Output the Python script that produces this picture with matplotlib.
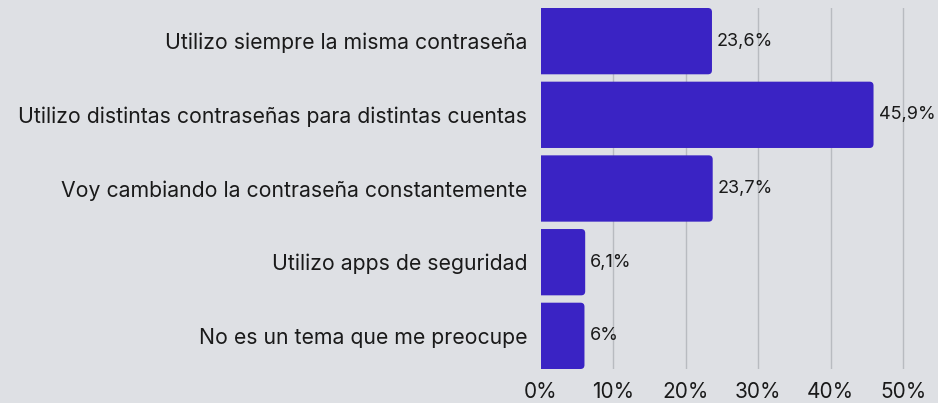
import matplotlib.pyplot as plt
from matplotlib.patches import FancyBboxPatch

categorias = ['Utilizo siempre la misma contraseña',
              'Utilizo distintas contraseñas para distintas cuentas',
              'Voy cambiando la contraseña constantemente',
              'Utilizo apps de seguridad',
              'No es un tema que me preocupe']
valores = [23.6, 45.9, 23.7, 6.1, 6.0]
etiquetas = ['23,6%', '45,9%', '23,7%', '6,1%', '6%']
ticks = [0, 10, 20, 30, 40, 50]

fondo = '#dee0e4'
color_barra = '#3a23c4'

plt.rcParams['font.family'] = ['Inter', 'DejaVu Sans']

fig = plt.figure(figsize=(9.38, 4.03), dpi=100, facecolor=fondo)
ax = fig.add_axes([541 / 938, 1 - 369 / 403, (938 - 541) / 938, 361 / 403])
ax.set_facecolor(fondo)

xmax = 54.8
ax.set_xlim(0, xmax)
ax.set_ylim(4.45, -0.45)

# escala px/unidad para redondear esquinas
px_x = 397 / xmax
px_y = 361 / 4.9
r = 4 / px_x
aspect = px_x / px_y

for i, v in enumerate(valores):
    caja = FancyBboxPatch((-2, i - 0.45), v + 2, 0.9,
                          boxstyle=f'round,pad=0,rounding_size={r}',
                          mutation_aspect=aspect,
                          facecolor=color_barra, edgecolor='none', zorder=2)
    ax.add_patch(caja)
    ax.text(v + 0.7, i, etiquetas[i], va='center', ha='left',
            fontsize=13, color='#1a1a1a', zorder=3, clip_on=False)

for t in ticks[1:]:
    ax.axvline(t, color='#b8bbc0', lw=1, zorder=1)

ax.set_yticks(range(len(categorias)))
ax.set_yticklabels(categorias, fontsize=15.3, color='#1a1a1a')
ax.set_xticks(ticks)
ax.set_xticklabels([f'{t}%' for t in ticks], fontsize=15, color='#1a1a1a')
ax.tick_params(axis='y', length=0, pad=10)
ax.tick_params(axis='x', length=0, pad=9)
for s in ax.spines.values():
    s.set_visible(False)

fig.savefig('out.png', dpi=100, facecolor=fondo)
